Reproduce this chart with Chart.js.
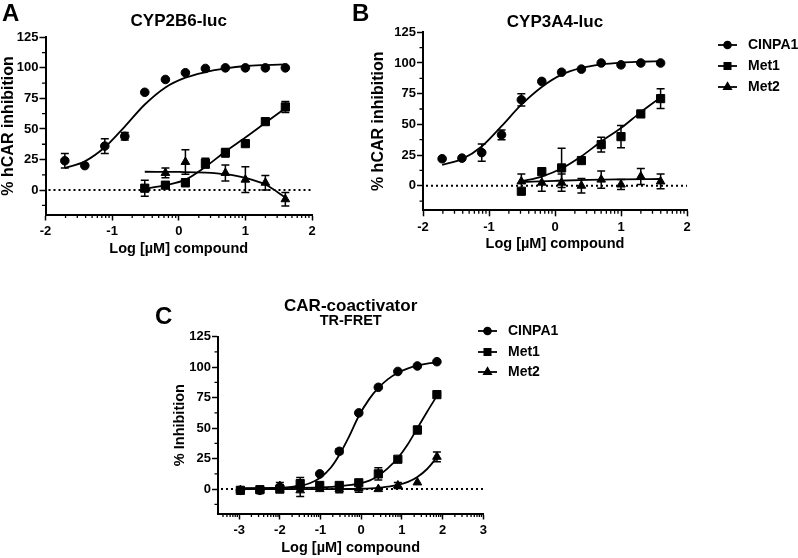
<!DOCTYPE html>
<html>
<head>
<meta charset="utf-8">
<script src="https://cdn.jsdelivr.net/npm/chart.js@4.4.1/dist/chart.umd.min.js"></script>
<style>
  html, body { margin: 0; padding: 0; background: #fff; }
  #wrap { position: relative; width: 798px; height: 558px; }
  #wrap canvas { position: absolute; left: 0; top: 0; }
</style>
</head>
<body>
<div id="wrap">
  <canvas id="panelA" width="798" height="558"></canvas>
  <canvas id="panelB" width="798" height="558"></canvas>
  <canvas id="panelC" width="798" height="558"></canvas>
</div>
<script>
// ==================== DADOS ====================
const yTicks = [0, 25, 50, 75, 100, 125];
const xTicksAB = [-2, -1, 0, 1, 2];
const xTicksC = [-3, -2, -1, 0, 1, 2, 3];

// concentrações (log µM)
const logConcAB = [-1.71, -1.41, -1.11, -0.81, -0.51, -0.2, 0.1, 0.4, 0.7, 1.0, 1.3, 1.6];
const logConcMetAB = [-0.51, -0.2, 0.1, 0.4, 0.7, 1.0, 1.3, 1.6];
const logConcC = [-2.97, -2.49, -2.0, -1.5, -1.02, -0.54, -0.06, 0.42, 0.9, 1.38, 1.86];

// Painel A - CYP2B6-luc
const aCinpa1 = [24, 20, 36, 44, 80, 90.5, 96, 99.5, 100, 100, 100, 100];
const aCinpa1Err = [6, 0, 6, 3, 0, 0, 0, 0, 0, 0, 0, 0];
const aMet1 = [1.5, 4, 6, 22, 30.5, 38, 56, 68];
const aMet1Err = [6.5, 0, 3, 4, 3.5, 2, 2, 4.5];
const aMet2 = [1, 14, 23, 20, 14, 8.5, 6, -7.5];
const aMet2Err = [0, 4, 10, 0, 6.5, 10.5, 6, 5.5];

const aCinpa1FitX = [-1.71, -1.41, -1.11, -0.81, -0.51, -0.2, 0.1, 0.4, 0.7, 1.0, 1.3, 1.6];
const aCinpa1FitY = [18, 23.5, 35, 52, 70, 84, 92, 96.5, 99.5, 101.5, 102.3, 102.8];
const aMet1FitX = [-0.51, -0.2, 0.1, 0.4, 0.7, 1.0, 1.3, 1.6];
const aMet1FitY = [1, 4, 8.5, 19, 31.5, 43, 55, 67];
const aMet2FitX = [-0.51, 0, 0.4, 0.7, 1.0, 1.3, 1.6];
const aMet2FitY = [15, 14.8, 14.3, 13, 10, 4.5, -6];

// Painel B - CYP3A4-luc
const bCinpa1 = [22, 22.5, 27, 41.5, 70, 85, 92.5, 95, 100, 98.5, 100, 100];
const bCinpa1Err = [0, 0, 7, 4, 5, 0, 0, 0, 0, 0, 0, 0];
const bMet1 = [-4.5, 11.5, 14.5, 20.5, 33.5, 40, 58.5, 71];
const bMet1Err = [0, 0, 16, 0, 6, 9, 0, 8];
const bMet2 = [3.5, 2.5, 2.5, 0, 5, 1, 7.5, 3.5];
const bMet2Err = [6, 7, 7, 6, 7, 4, 6.5, 6];

const bCinpa1FitX = [-1.71, -1.41, -1.11, -0.81, -0.51, -0.2, 0.1, 0.4, 0.7, 1.0, 1.3, 1.6];
const bCinpa1FitY = [17, 21.7, 32, 48.5, 66, 80.5, 90.5, 96, 98.8, 100.3, 101, 101.5];
const bMet1FitX = [-0.51, -0.2, 0.1, 0.4, 0.7, 1.0, 1.3, 1.6];
const bMet1FitY = [3.5, 7.5, 14, 24, 36, 47, 60, 72];
const bMet2FitX = [-0.51, 0, 0.5, 1.0, 1.6];
const bMet2FitY = [3, 4, 4.8, 5.2, 5.5];

// Painel C - CAR-coactivator TR-FRET
const cCinpa1 = [-1, -1, 1.5, 2, 12.5, 31, 62.5, 83.5, 96.5, 101, 104.5];
const cCinpa1Err = [0, 0, 2, 0, 0, 2, 0, 0, 0, 0, 0];
const cMet1 = [-1, -0.5, 0, 4.5, 3, 3, 5.2, 12.5, 24.5, 48.5, 77.5];
const cMet1Err = [0, 0, 2, 5, 0, 0, 0, 5, 0, 3, 0];
const cMet2 = [-1, -1, 2.5, -1, 0, 0, 0.5, 0, 3, 5.5, 26.5];
const cMet2Err = [0, 0, 3, 5, 0, 3, 3, 0, 2.5, 0, 4];

const cCinpa1FitX = [-2.97, -2.5, -2.0, -1.5, -1.25, -1.0, -0.75, -0.54, -0.3, -0.06, 0.2, 0.42, 0.65, 0.9, 1.15, 1.38, 1.62, 1.86];
const cCinpa1FitY = [0.3, 0.5, 1, 2.8, 5, 9.5, 17.5, 28, 43, 60, 74, 83, 90, 95.5, 99, 101.5, 103, 103.8];
const cMet1FitX = [-2.97, -2.0, -1.0, -0.5, -0.06, 0.2, 0.42, 0.65, 0.9, 1.15, 1.38, 1.62, 1.86];
const cMet1FitY = [0.8, 1, 1.5, 2.5, 4.5, 7, 11, 17, 25.5, 37, 50, 63.5, 76.5];
const cMet2FitX = [-2.97, -1.0, 0, 0.42, 0.65, 0.9, 1.15, 1.38, 1.62, 1.86];
const cMet2FitY = [0, 0, 0.3, 1, 2, 3.5, 6, 10, 16.5, 26];

const seriesNames = ["CINPA1", "Met1", "Met2"];

// ==================== ESTILO ====================
const FONT = "'Liberation Sans', Arial, Helvetica, sans-serif";
const marcadores = [
  { estilo: "circle", raio: 4.3, raioLegenda: 3.4 },
  { estilo: "rect", raio: 5.8, raioLegenda: 4.4 },
  { estilo: "triangle", raio: 5, raioLegenda: 4 },
];

function pontos(xs, ys) {
  return xs.map((x, i) => ({ x: x, y: ys[i] }));
}

// ==================== PLUGIN DE DECORAÇÃO ====================
const decorPlugin = {
  id: "decor",
  beforeDatasetsDraw(chart) {
    const { ctx, chartArea, scales } = chart;
    const y0 = scales.y.getPixelForValue(0);
    ctx.save();
    ctx.strokeStyle = "#000";
    ctx.lineWidth = 2;
    ctx.setLineDash([2, 3]);
    ctx.beginPath();
    ctx.moveTo(chartArea.left + 3, y0);
    ctx.lineTo(chartArea.right, y0);
    ctx.stroke();
    ctx.restore();
  },
  afterDatasetsDraw(chart) {
    const { ctx, scales } = chart;
    ctx.save();
    ctx.strokeStyle = "#000";
    ctx.lineWidth = 1.5;
    chart.data.datasets.forEach((ds) => {
      if (!ds.erros) return;
      ds.data.forEach((p, i) => {
        const e = ds.erros[i];
        if (!e) return;
        const px = scales.x.getPixelForValue(p.x);
        const yTop = scales.y.getPixelForValue(p.y + e);
        const yBot = scales.y.getPixelForValue(p.y - e);
        ctx.beginPath();
        ctx.moveTo(px, yTop);
        ctx.lineTo(px, yBot);
        ctx.moveTo(px - 4, yTop);
        ctx.lineTo(px + 4, yTop);
        ctx.moveTo(px - 4, yBot);
        ctx.lineTo(px + 4, yBot);
        ctx.stroke();
      });
    });
    ctx.restore();
  },
  afterDraw(chart) {
    const { ctx, chartArea, scales } = chart;
    const p = chart.options.plugins.decor;
    ctx.save();
    ctx.strokeStyle = "#000";
    ctx.fillStyle = "#000";
    ctx.lineWidth = 1.3;

    // ticks menores do eixo x (escala log)
    const xs = scales.x;
    ctx.beginPath();
    for (let d = Math.floor(xs.min) - 1; d <= xs.max; d++) {
      for (let k = 2; k <= 9; k++) {
        const v = d + Math.log10(k);
        if (v < xs.min || v > xs.max) continue;
        const px = xs.getPixelForValue(v);
        ctx.moveTo(px, chartArea.bottom);
        ctx.lineTo(px, chartArea.bottom + 3.5);
      }
    }
    // ticks menores do eixo y
    for (let v = -12.5; v < 125; v += 25) {
      const py = scales.y.getPixelForValue(v);
      ctx.moveTo(chartArea.left, py);
      ctx.lineTo(chartArea.left - 3.5, py);
    }
    ctx.stroke();

    const cx = (chartArea.left + chartArea.right) / 2;
    const cy = (chartArea.top + chartArea.bottom) / 2;

    // letra do painel
    ctx.textAlign = "left";
    ctx.textBaseline = "alphabetic";
    ctx.font = `bold 24px ${FONT}`;
    ctx.fillText(p.letra, p.letraX, p.letraY);

    // títulos
    ctx.textAlign = "center";
    p.titulos.forEach((t) => {
      ctx.font = `bold ${t.size}px ${FONT}`;
      ctx.fillText(t.text, cx, t.y);
    });

    // título eixo x
    ctx.font = `bold ${p.xTituloSize}px ${FONT}`;
    ctx.fillText("Log [\u00B5M] compound", cx, chartArea.bottom + 38);

    // título eixo y
    ctx.save();
    ctx.translate(p.yTituloX, cy);
    ctx.rotate(-Math.PI / 2);
    ctx.textBaseline = "middle";
    ctx.font = `bold ${p.yTituloSize}px ${FONT}`;
    ctx.fillText(p.yTitulo, 0, 0);
    ctx.restore();

    // legenda
    if (p.legenda) {
      const L = p.legenda;
      ctx.textAlign = "left";
      ctx.textBaseline = "middle";
      ctx.font = `bold 14px ${FONT}`;
      seriesNames.forEach((nome, i) => {
        const y = L.ys[i];
        ctx.lineWidth = 1.8;
        ctx.beginPath();
        ctx.moveTo(L.x1, y);
        ctx.lineTo(L.x2, y);
        ctx.stroke();
        Chart.helpers.drawPoint(ctx, {
          pointStyle: marcadores[i].estilo,
          radius: marcadores[i].raioLegenda,
          rotation: 0,
          borderWidth: 1,
        }, (L.x1 + L.x2) / 2, y);
        ctx.fill();
        ctx.fillText(nome, L.tx, y + 0.5);
      });
    }
    ctx.restore();
  },
};

// ==================== FUNÇÃO PADRÃO DE PAINEL ====================
function criarPainel(id, p) {
  const datasets = [];
  p.series.forEach((s, i) => {
    datasets.push({
      label: seriesNames[i],
      data: pontos(s.x, s.y),
      erros: s.err,
      showLine: false,
      pointStyle: marcadores[i].estilo,
      pointRadius: marcadores[i].raio,
      pointBackgroundColor: "#000",
      pointBorderColor: "#000",
      pointBorderWidth: 1,
      order: 1,
    });
  });
  p.series.forEach((s, i) => {
    datasets.push({
      label: seriesNames[i] + " fit",
      data: pontos(s.fitX, s.fitY),
      showLine: true,
      borderColor: "#000",
      borderWidth: 1.8,
      pointRadius: 0,
      cubicInterpolationMode: "monotone",
      fill: false,
      order: 2,
    });
  });

  const a = p.area;
  const tickFont = { family: FONT, size: 13, weight: "bold" };

  new Chart(document.getElementById(id), {
    type: "scatter",
    data: { datasets: datasets },
    options: {
      responsive: false,
      animation: false,
      events: [],
      layout: {
        padding: { left: 0, top: a.top, right: 798 - a.right, bottom: 558 - a.bottom - 30 },
      },
      plugins: {
        legend: { display: false },
        tooltip: { enabled: false },
        decor: p.decor,
      },
      scales: {
        x: {
          type: "linear",
          min: p.xMin,
          max: p.xMax,
          afterBuildTicks: (s) => { s.ticks = p.xTicks.map((v) => ({ value: v })); },
          afterFit: (s) => { s.height = 30; },
          grid: { drawOnChartArea: false, tickLength: 6, tickWidth: 1.5, tickColor: "#000" },
          border: { color: "#000", width: 2 },
          ticks: { color: "#000", font: tickFont, padding: 3, maxRotation: 0, autoSkip: false },
        },
        y: {
          min: -20,
          max: 125,
          afterBuildTicks: (s) => { s.ticks = yTicks.map((v) => ({ value: v })); },
          afterFit: (s) => { s.width = a.left; },
          grid: { drawOnChartArea: false, tickLength: 6, tickWidth: 1.5, tickColor: "#000" },
          border: { color: "#000", width: 2 },
          ticks: { color: "#000", font: tickFont, padding: 1 },
        },
      },
    },
    plugins: [decorPlugin],
  });
}

// ==================== PAINÉIS ====================
criarPainel("panelA", {
  area: { left: 45.5, top: 37.3, right: 312, bottom: 214.5 },
  xMin: -2, xMax: 2, xTicks: xTicksAB,
  series: [
    { x: logConcAB, y: aCinpa1, err: aCinpa1Err, fitX: aCinpa1FitX, fitY: aCinpa1FitY },
    { x: logConcMetAB, y: aMet1, err: aMet1Err, fitX: aMet1FitX, fitY: aMet1FitY },
    { x: logConcMetAB, y: aMet2, err: aMet2Err, fitX: aMet2FitX, fitY: aMet2FitY },
  ],
  decor: {
    letra: "A", letraX: 2, letraY: 21,
    titulos: [{ text: "CYP2B6-luc", size: 17, y: 26 }],
    yTitulo: "% hCAR inhibition", yTituloX: 9, yTituloSize: 16,
    xTituloSize: 14.5,
    legenda: null,
  },
});

criarPainel("panelB", {
  area: { left: 423, top: 32.3, right: 687, bottom: 210.3 },
  xMin: -2, xMax: 2, xTicks: xTicksAB,
  series: [
    { x: logConcAB, y: bCinpa1, err: bCinpa1Err, fitX: bCinpa1FitX, fitY: bCinpa1FitY },
    { x: logConcMetAB, y: bMet1, err: bMet1Err, fitX: bMet1FitX, fitY: bMet1FitY },
    { x: logConcMetAB, y: bMet2, err: bMet2Err, fitX: bMet2FitX, fitY: bMet2FitY },
  ],
  decor: {
    letra: "B", letraX: 352, letraY: 21,
    titulos: [{ text: "CYP3A4-luc", size: 17, y: 27 }],
    yTitulo: "% hCAR inhibition", yTituloX: 379, yTituloSize: 16,
    xTituloSize: 14.5,
    legenda: { x1: 718, x2: 737, tx: 748, ys: [45, 66, 87] },
  },
});

criarPainel("panelC", {
  area: { left: 218, top: 336.7, right: 483.3, bottom: 513.5 },
  xMin: -3.52, xMax: 3, xTicks: xTicksC,
  series: [
    { x: logConcC, y: cCinpa1, err: cCinpa1Err, fitX: cCinpa1FitX, fitY: cCinpa1FitY },
    { x: logConcC, y: cMet1, err: cMet1Err, fitX: cMet1FitX, fitY: cMet1FitY },
    { x: logConcC, y: cMet2, err: cMet2Err, fitX: cMet2FitX, fitY: cMet2FitY },
  ],
  decor: {
    letra: "C", letraX: 155, letraY: 324,
    titulos: [
      { text: "CAR-coactivator", size: 17, y: 311 },
      { text: "TR-FRET", size: 14.5, y: 325 },
    ],
    yTitulo: "% Inhibition", yTituloX: 180, yTituloSize: 14.5,
    xTituloSize: 14.5,
    legenda: { x1: 478, x2: 497, tx: 508, ys: [331, 352, 372] },
  },
});
</script>
</body>
</html>
